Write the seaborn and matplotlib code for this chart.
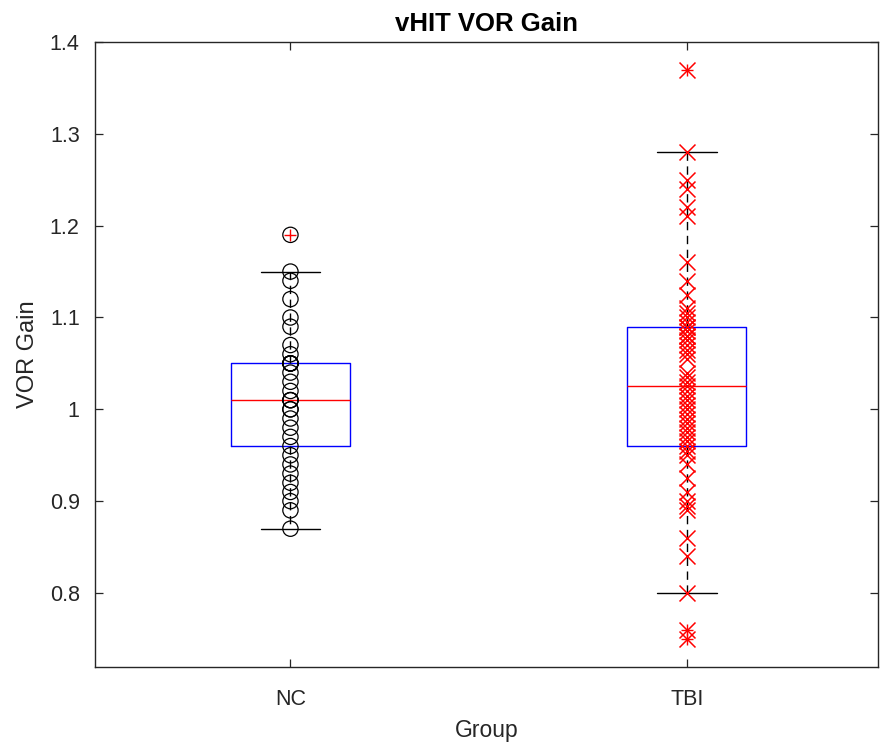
import numpy as np
import pandas as pd
import matplotlib
matplotlib.use("Agg")
import matplotlib.pyplot as plt
import seaborn as sns

# ---- data ----
groups = ["NC", "TBI"]
nc_gain = [0.87, 0.89, 0.90, 0.91, 0.92, 0.93, 0.94, 0.95, 0.96, 0.97, 0.98,
           0.99, 1.00, 1.00, 1.01, 1.01, 1.01, 1.02, 1.03, 1.04, 1.05, 1.05,
           1.05, 1.05, 1.05, 1.06, 1.07, 1.09, 1.10, 1.12, 1.14, 1.15, 1.19]
tbi_gain = [0.75, 0.76, 0.80, 0.84, 0.86, 0.89, 0.895, 0.90, 0.91, 0.925,
            0.94, 0.95, 0.955,
            0.96, 0.965, 0.97, 0.975, 0.98, 0.985, 0.99, 0.995, 1.00, 1.005,
            1.01, 1.015, 1.02, 1.025, 1.03, 1.035, 1.04, 1.055, 1.06, 1.065,
            1.07, 1.075, 1.08, 1.08, 1.085, 1.09, 1.09,
            1.095, 1.10, 1.105, 1.11, 1.125, 1.14, 1.16, 1.21, 1.22, 1.24,
            1.25, 1.28, 1.37]
title_text = "vHIT VOR Gain"
xlabel_text = "Group"
ylabel_text = "VOR Gain"
ytick_values = [0.8, 0.9, 1.0, 1.1, 1.2, 1.3, 1.4]
ytick_labels = ["0.8", "0.9", "1", "1.1", "1.2", "1.3", "1.4"]

df = pd.DataFrame({
    "Group": ["NC"] * len(nc_gain) + ["TBI"] * len(tbi_gain),
    "Gain": nc_gain + tbi_gain,
})

sns.set_theme(style="white")
plt.rcParams['font.family'] = ['Liberation Sans', 'DejaVu Sans']

fig = plt.figure(figsize=(8.8, 7.44), dpi=100)
ax = fig.add_axes([95 / 880, 77 / 744, 783 / 880, 625 / 744])

sns.boxplot(
    data=df, x="Group", y="Gain", order=groups, ax=ax,
    width=0.3, whis=1.5, fill=False, linewidth=1.0, fliersize=8,
    boxprops=dict(color="blue"),
    medianprops=dict(color="red"),
    whiskerprops=dict(color="black", linestyle=(0, (6, 4))),
    capprops=dict(color="black"),
    flierprops=dict(marker="+", markeredgecolor="red", markeredgewidth=1.0),
)

n_before = len(ax.collections)
sns.stripplot(
    data=df[df["Group"] == "NC"], x="Group", y="Gain", order=groups, ax=ax,
    jitter=False, marker="o", size=11, color="black", edgecolor="black",
    linewidth=0.9,
)
for coll in ax.collections[n_before:]:
    coll.set_facecolor("none")
    coll.set_edgecolor("black")

sns.stripplot(
    data=df[df["Group"] == "TBI"], x="Group", y="Gain", order=groups, ax=ax,
    jitter=False, marker="x", size=11.5, color="red", edgecolor="red",
    linewidth=1.1,
)

ax.set_xlim(-0.493, 1.482)
ax.set_ylim(0.7194, 1.4)
ax.set_yticks(ytick_values)
ax.set_yticklabels(ytick_labels)

for s in ax.spines.values():
    s.set_visible(True)
    s.set_color("#262626")
    s.set_linewidth(1.0)

ax.tick_params(axis="both", direction="in", length=6, width=0.9,
               colors="#262626", labelsize=15.5,
               top=True, right=True, bottom=True, left=True)
ax.tick_params(axis="x", pad=16)
ax.tick_params(axis="y", pad=11)

ax.set_title(title_text, fontsize=18.5, fontweight="bold", color="black", pad=8)
ax.set_xlabel(xlabel_text, fontsize=16.5, color="#262626", labelpad=6)
ax.set_ylabel(ylabel_text, fontsize=17, color="#262626", labelpad=8)

fig.savefig("out.png", dpi=100)
